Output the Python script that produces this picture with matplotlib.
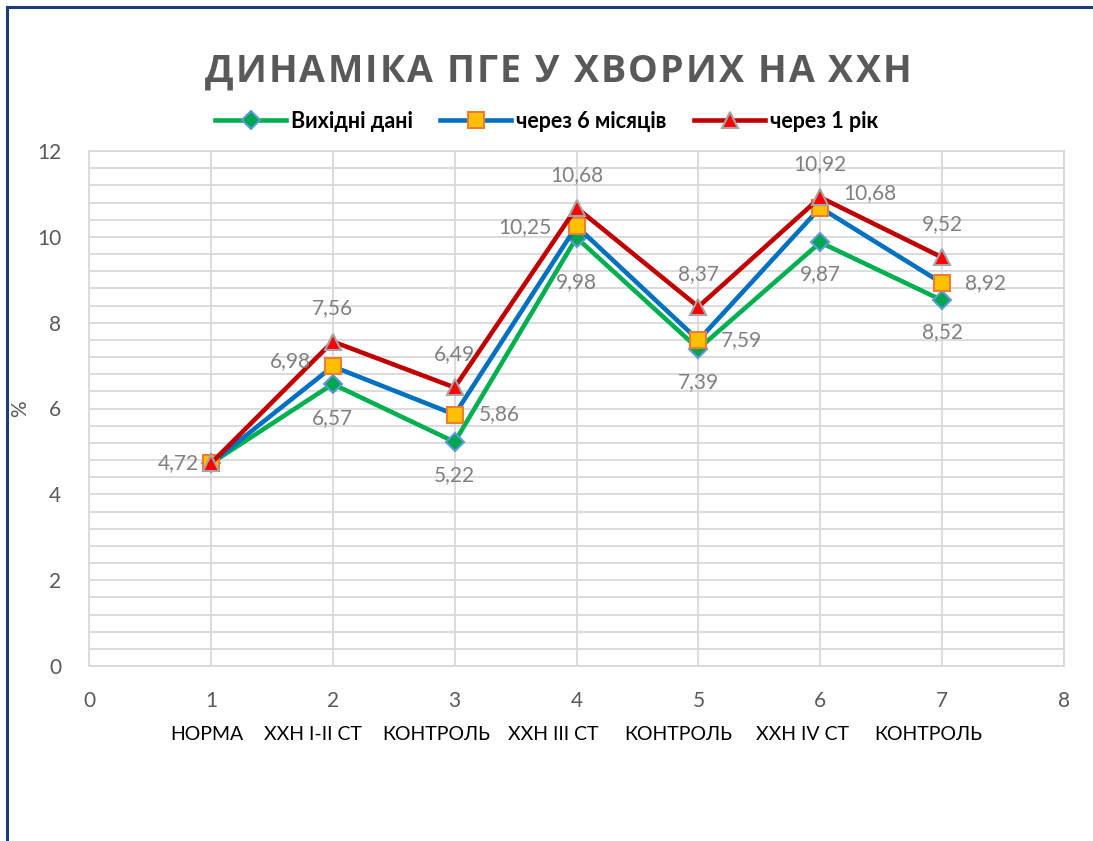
import matplotlib
matplotlib.use("Agg")
import matplotlib.pyplot as plt
from matplotlib.lines import Line2D
import numpy as np

# ---- data ----
x_pos = [1, 2, 3, 4, 5, 6, 7]
categories = ["НОРМА", "ХХН I-II СТ", "КОНТРОЛЬ", "ХХН III СТ", "КОНТРОЛЬ", "ХХН IV СТ", "КОНТРОЛЬ"]
series_names = ["Вихідні дані", "через 6 місяців", "через 1 рік"]
baseline = [4.72, 6.57, 5.22, 9.98, 7.39, 9.87, 8.52]
six_months = [4.72, 6.98, 5.86, 10.25, 7.59, 10.68, 8.92]
one_year = [4.72, 7.56, 6.49, 10.68, 8.37, 10.92, 9.52]
title = "ДИНАМІКА ПГЕ У ХВОРИХ НА ХХН"

W, H = 1093, 841
fig = plt.figure(figsize=(W / 100, H / 100), dpi=100)
fig.patch.set_facecolor("white")

L, R, T, B = 89, 1064, 151, 666
ax = fig.add_axes([L / W, 1 - B / H, (R - L) / W, (B - T) / H])

FONT = ["Lato", "Open Sans", "DejaVu Sans"]
GRID = "#D9D9D9"

ax.set_xlim(0, 8)
ax.set_ylim(0, 12)
ax.set_xticks(range(0, 9))
ax.set_yticks(range(0, 13, 2))
ax.set_yticks(np.arange(0, 12.01, 0.4), minor=True)
ax.grid(True, which="major", color=GRID, lw=1.3, zorder=0)
ax.grid(True, which="minor", axis="y", color=GRID, lw=1.3, zorder=0)
ax.tick_params(which="both", length=0)
ax.tick_params(axis="y", pad=20, labelsize=15, labelcolor="#595959")
ax.tick_params(axis="x", pad=18, labelsize=15, labelcolor="#595959")
for lab in ax.get_xticklabels() + ax.get_yticklabels():
    lab.set_family(FONT)
for sp in ax.spines.values():
    sp.set_color(GRID)
    sp.set_linewidth(1.3)
ax.set_axisbelow(True)

styles = [
    dict(color="#00B050", marker="D", ms=9, mfc="#00A550", mec="#5B9BD5", mew=1.5),
    dict(color="#0070C0", marker="s", ms=12, mfc="#FFC000", mec="#ED7D31", mew=1.5),
    dict(color="#C00000", marker="^", ms=12, mfc="#FF0000", mec="#A5A5A5", mew=1.5),
]
handles = []
for vals, name, st in zip([baseline, six_months, one_year], series_names, styles):
    h, = ax.plot(x_pos, vals, lw=3.3, label=name, zorder=3, clip_on=False, **st)
    handles.append(h)

LBL = "#808080"
def lab(x, y, text, dx, dy, ha="center", va="center"):
    ax.annotate(text, (x, y), xytext=(dx, -dy), textcoords="offset pixels",
                ha=ha, va=va, fontsize=15, color=LBL, family=FONT, zorder=5)

fmt = lambda v: f"{v:.2f}".replace(".", ",")
# first point label
lab(x_pos[0], baseline[0], fmt(baseline[0]), -12, 0, ha="right")
# green below
g_off = [None, 34, 33, 44, 33, 32, 32]
for i in range(1, 7):
    lab(x_pos[i], baseline[i], fmt(baseline[i]), 0, g_off[i])
# blue
b_pos = [None, ("l", -22, -5), ("r", 24, 0), ("l", -25, 1), ("r", 23, 0), ("c", 50, -15), ("r", 23, 0)]
for i in range(1, 7):
    side, dx, dy = b_pos[i]
    ha = {"l": "right", "r": "left", "c": "center"}[side]
    lab(x_pos[i], six_months[i], fmt(six_months[i]), dx, dy, ha=ha)
# red above
for i in range(1, 7):
    lab(x_pos[i], one_year[i], fmt(one_year[i]), 0, -33)

ax.set_ylabel("%", fontsize=15, color="#595959", family=FONT)
ax.yaxis.set_label_coords((30 - L) / (R - L), 0.5)

# legend
leg = fig.legend(handles=handles, loc="center", bbox_to_anchor=(0.5, 1 - 121 / H), ncol=3,
                 frameon=False, handlelength=3.3, handletextpad=0.2, columnspacing=1.3,
                 prop=dict(family=FONT, weight="bold", size=15.5))

# category labels
cat_px = [207, 313, 436, 553, 678, 802, 928]
for c, px in zip(categories, cat_px):
    fig.text(px / W, 1 - 735 / H, c, ha="center", va="center", fontsize=14,
             color="black", family=FONT)

# spaced title
renderer = fig.canvas.get_renderer()
tkw = dict(fontsize=27, fontweight="bold", color="#595959", family=["Open Sans", "DejaVu Sans"])
def width(s):
    t = fig.text(0, 0, s, **tkw)
    w = t.get_window_extent(renderer).width
    t.remove()
    return w
wH = width("H")
adv = [width(title[:i] + "H") - wH for i in range(len(title))]
natural = width(title)
target = 912 - 205
sp = (target - natural) / (len(title) - 1)
x0 = 558 - target / 2
for i, ch in enumerate(title):
    if ch == " ":
        continue
    fig.text((x0 + adv[i] + i * sp) / W, 1 - 72 / H, ch, ha="left", va="center", **tkw)

# outer frame (top and left visible)
fig.add_artist(Line2D([7 / W, 7 / W], [0, 1 - 7 / H], color="#1F3A7A", lw=2.2))
fig.add_artist(Line2D([7 / W, 1], [1 - 7 / H, 1 - 7 / H], color="#1F3A7A", lw=2.2))

fig.savefig("out.png", dpi=100)
